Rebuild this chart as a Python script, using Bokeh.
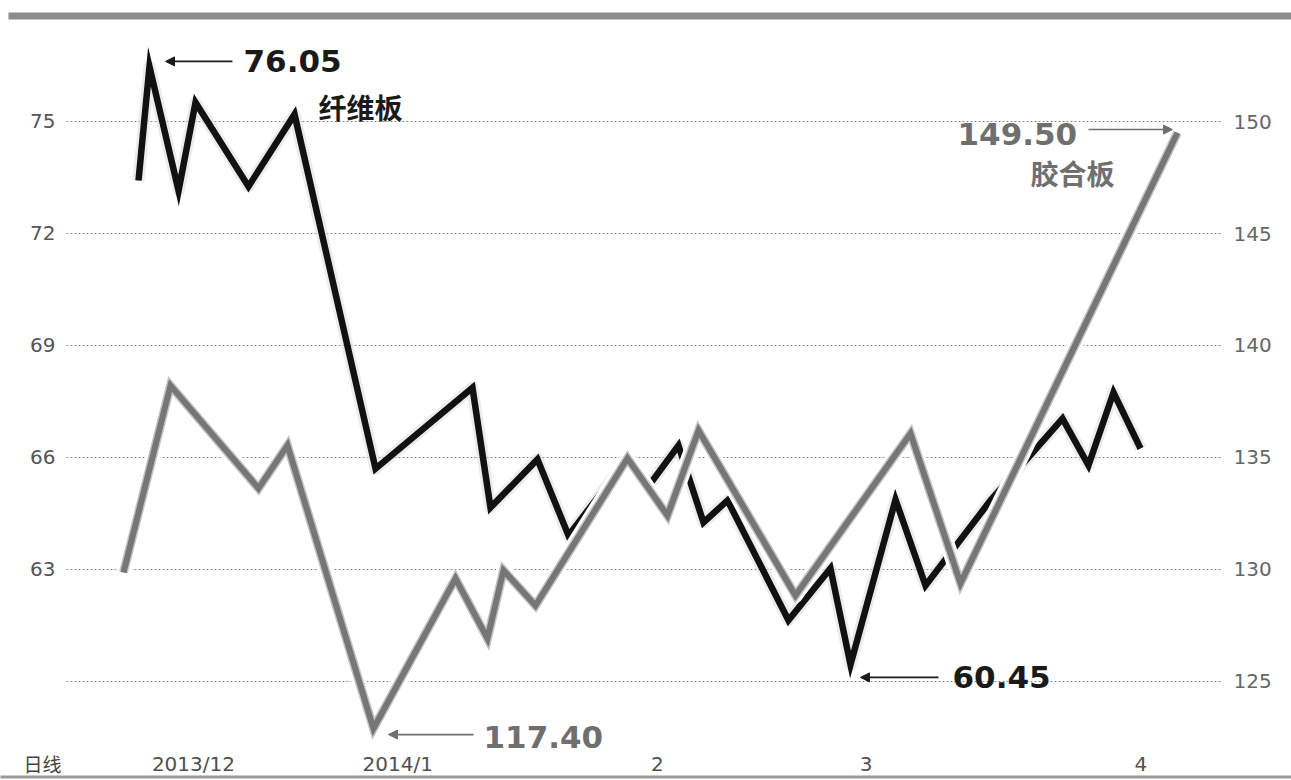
from bokeh.plotting import figure
from bokeh.models import (Range1d, LinearAxis, FixedTicker, Label, Arrow, NormalHead,
                          BoxAnnotation, CustomJSTickFormatter)
from bokeh.embed import file_html
from bokeh.resources import INLINE

# ---- data (x: position along the trading-day axis, chart area spans 0..100) ----
fiber_x = [6.24, 7.19, 9.71, 11.18, 15.77, 19.76, 26.78, 35.18, 36.74, 40.81, 43.50, 48.61,
           50.35, 53.03, 55.20, 57.28, 62.56, 66.20, 67.94, 71.84, 74.44, 80.07, 86.31,
           88.56, 90.73, 93.07]
fiber_y = [73.42, 76.47, 73.15, 75.51, 73.26, 75.19, 65.70, 67.87, 64.66, 65.95, 63.91, 65.97,
           65.20, 66.32, 64.26, 64.85, 61.64, 63.03, 60.45, 64.87, 62.57, 64.85, 67.04,
           65.79, 67.74, 66.24]
ply_x = [4.94, 9.01, 16.64, 19.15, 26.60, 33.71, 36.48, 37.87, 40.64, 48.61, 52.08, 54.77,
         63.17, 73.14, 77.47, 96.27]
ply_y = [129.87, 138.21, 133.62, 135.54, 122.90, 129.60, 126.92, 129.96, 128.39, 134.96,
         132.41, 136.21, 128.84, 136.07, 129.38, 149.50]

x_tick_pos = [11.0, 28.7, 51.2, 69.3, 93.1]
x_tick_labels = ["2013/12", "2014/1", "2", "3", "4"]
left_ticks = [63, 66, 69, 72, 75]
right_ticks = [125, 130, 135, 140, 145, 150]

fiber_name = "纤维板"
ply_name = "胶合板"
fiber_max_text, fiber_min_text = "76.05", "60.45"
ply_max_text, ply_min_text = "149.50", "117.40"
period_text = "日线"

# chart area extent along x (gridlines span it)
area_x0, area_x1 = 0, 100

W, H = 1291, 780
XR = (-5.7192, 106.153)
YL = (57.348, 78.241)
YR = (120.580, 155.402)
p = figure(width=W, height=H, output_backend="svg", toolbar_location=None,
           x_range=Range1d(*XR), y_range=Range1d(*YL),
           min_border_left=0, min_border_right=0, min_border_top=0, min_border_bottom=0,
           background_fill_color="white", border_fill_color="white")
p.outline_line_color = None
p.extra_y_ranges = {"right": Range1d(*YR)}
p.xgrid.visible = False
p.ygrid.visible = False

NUMFONT = "DejaVu Sans"
CJK = "Noto Sans CJK SC"

def style_axis(ax, color):
    ax.axis_line_color = None
    ax.major_tick_line_color = None
    ax.minor_tick_line_color = None
    ax.major_tick_out = 0
    ax.major_tick_in = 0
    ax.minor_tick_out = 0
    ax.minor_tick_in = 0
    ax.major_label_text_font = NUMFONT
    ax.major_label_text_font_size = "20px"
    ax.major_label_text_color = color

p.xaxis.ticker = FixedTicker(ticks=x_tick_pos)
p.xaxis.formatter = CustomJSTickFormatter(args=dict(names=x_tick_labels), code="return names[index];")
p.yaxis.ticker = FixedTicker(ticks=left_ticks)
style_axis(p.xaxis[0], "#505050")
style_axis(p.yaxis[0], "#555555")
p.xaxis.major_label_standoff = -29
p.yaxis.major_label_standoff = -55

raxis = LinearAxis(y_range_name="right", ticker=FixedTicker(ticks=right_ticks))
style_axis(raxis, "#666666")
raxis.major_label_standoff = -58
p.add_layout(raxis, "right")

# horizontal dotted gridlines at the right-axis ticks, across the chart area
p.segment(x0=[area_x0] * len(right_ticks), x1=[area_x1] * len(right_ticks),
          y0=right_ticks, y1=right_ticks, y_range_name="right",
          line_color="#8a8a8a", line_dash="2 2", line_width=1)

# top gray band and bottom rule
p.add_layout(BoxAnnotation(left=-5.03, right=XR[1] + 5, top=77.92, bottom=77.732,
                           fill_color="#8c8c8c", fill_alpha=1, line_color=None))
p.add_layout(BoxAnnotation(left=XR[0] - 5, right=XR[1] + 5, top=57.482, bottom=57.40,
                           fill_color="#9a9a9a", fill_alpha=1, line_color=None))

# fiberboard line (black) with soft glow
p.line(fiber_x, fiber_y, line_color="#dcdcdc", line_width=12, line_alpha=0.55, line_join="round")
p.line(fiber_x, fiber_y, line_color="#111111", line_width=6.5, line_join="miter")

# plywood line (gray) with white halo and light edge
p.line(ply_x, ply_y, y_range_name="right", line_color="#ffffff", line_width=15, line_join="round")
p.line(ply_x, ply_y, y_range_name="right", line_color="#c4c4c4", line_width=9, line_join="miter")
p.line(ply_x, ply_y, y_range_name="right", line_color="#767676", line_width=6, line_join="miter")

def lab(x, y, text, color, size, font, rng="default", align="left", style="bold"):
    p.add_layout(Label(x=x, y=y, text=text, text_color=color, text_font_size=size,
                       text_font=font, text_font_style=style, text_align=align,
                       text_baseline="middle", y_range_name=rng))

def arrow(x0, x1, y, color, rng="default"):
    p.add_layout(Arrow(x_start=x0, y_start=y, x_end=x1, y_end=y, line_color=color, line_width=1.6,
                       end=NormalHead(size=9, fill_color=color, line_color=color),
                       y_range_name=rng))

lab(15.34, 76.63, fiber_max_text, "#1a1a1a", "31px", NUMFONT)
arrow(14.38, 8.58, 76.61, "#1a1a1a")
lab(21.84, 75.375, fiber_name, "#1a1a1a", "28px", CJK)

lab(77.21, 149.46, ply_max_text, "#6f6f6f", "31px", NUMFONT, rng="right")
arrow(88.56, 95.84, 149.64, "#6f6f6f", rng="right")
lab(83.54, 147.72, ply_name, "#6f6f6f", "28px", CJK, rng="right")

lab(36.14, 122.5, ply_min_text, "#6f6f6f", "31px", NUMFONT, rng="right")
arrow(35.27, 27.90, 122.63, "#6f6f6f", rng="right")

lab(76.78, 60.13, fiber_min_text, "#1a1a1a", "31px", NUMFONT)
arrow(75.56, 68.80, 60.11, "#1a1a1a")

lab(-2.08, 57.80, period_text, "#444444", "19px", CJK, align="center", style="normal")

open("out.html", "w").write(file_html(p, INLINE))
